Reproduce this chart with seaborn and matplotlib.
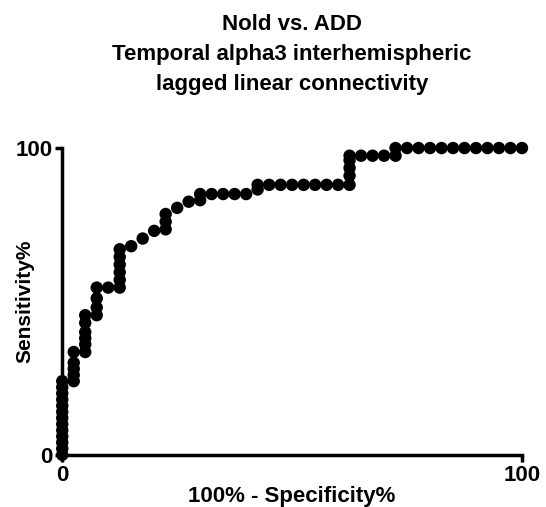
import matplotlib
matplotlib.use("Agg")
import matplotlib.pyplot as plt
import seaborn as sn
import pandas as pd

# ROC points (100% - specificity, sensitivity)
spec = [0, 0, 0, 0, 0, 0, 0, 0, 0, 0, 0, 0, 0,
        2.5, 2.5, 2.5, 2.5, 2.5,
        5, 5, 5, 5, 5, 5,
        7.5, 7.5, 7.5, 7.5,
        10,
        12.5, 12.5, 12.5, 12.5, 12.5, 12.5,
        15, 17.5, 20,
        22.5, 22.5, 22.5,
        25, 27.5,
        30, 30,
        32.5, 35, 37.5, 40,
        42.5, 42.5,
        45, 47.5, 50, 52.5, 55, 57.5, 60,
        62.5, 62.5, 62.5, 62.5, 62.5,
        65, 67.5, 70,
        72.5, 72.5,
        75, 77.5, 80, 82.5, 85, 87.5, 90, 92.5, 95, 97.5, 100]
sens = [0, 2, 4, 6, 8, 10, 12, 14, 16, 18, 20, 22, 24,
        24, 26, 28, 30, 33.5,
        33.5, 36, 38, 40, 43, 45.5,
        45.5, 48, 51, 54.5,
        54.5,
        54.5, 57, 59.5, 62, 64.5, 67,
        68, 70.5, 73,
        73.5, 76, 78.5,
        80.5, 82.5,
        83, 85,
        85, 85, 85, 85,
        86.5, 88,
        88, 88, 88, 88, 88, 88, 88,
        88, 91, 93.5, 96, 97.5,
        97.5, 97.5, 97.5,
        97.5, 100,
        100, 100, 100, 100, 100, 100, 100, 100, 100, 100, 100]

df = pd.DataFrame({'spec': spec, 'sens': sens})

plt.rcParams['font.family'] = ['Liberation Sans', 'DejaVu Sans']
fig = plt.figure(figsize=(5.46, 5.07), dpi=100)
ax = fig.add_axes([0.114, 0.103, 0.842, 0.605])
sn.scatterplot(data=df, x='spec', y='sens', color='black', s=80,
               edgecolor='none', clip_on=False, zorder=3, ax=ax)
ax.set_xlim(0, 100)
ax.set_ylim(0, 100)
ax.set_xticks([0, 100])
ax.set_yticks([0, 100])
for s in ['top', 'right']:
    ax.spines[s].set_visible(False)
for s in ['left', 'bottom']:
    ax.spines[s].set_linewidth(2.5)
ax.tick_params(width=2.5, length=5, labelsize=16, pad=2)
for t in ax.get_xticklabels() + ax.get_yticklabels():
    t.set_fontweight('bold')
ax.set_xlabel('100% - Specificity%', fontsize=16, fontweight='bold', labelpad=0)
ax.set_ylabel('Sensitivity%', fontsize=15, fontweight='bold', labelpad=-14)
ax.set_title('Nold vs. ADD\nTemporal alpha3 interhemispheric\nlagged linear connectivity',
             fontsize=16, fontweight='bold', pad=42, linespacing=1.55)
fig.savefig('out.png', dpi=100)
